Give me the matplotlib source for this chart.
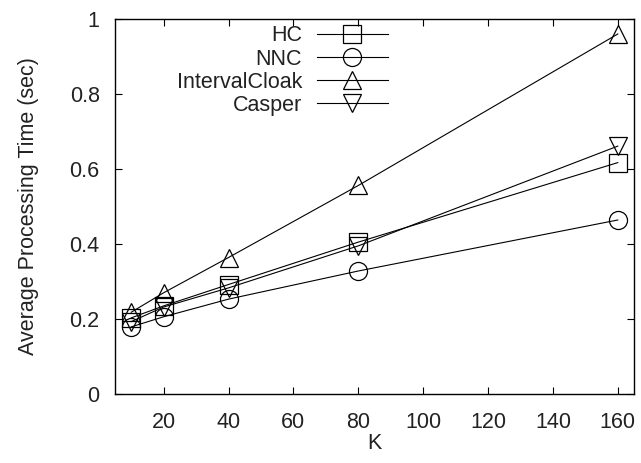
import numpy as np
import matplotlib
matplotlib.use("Agg")
import matplotlib.pyplot as plt
from matplotlib.ticker import FuncFormatter

# data
K = [10, 20, 40, 80, 160]
HC = [0.203, 0.235, 0.292, 0.405, 0.617]
NNC = [0.179, 0.206, 0.253, 0.328, 0.464]
IntervalCloak = [0.218, 0.270, 0.364, 0.556, 0.960]
Casper = [0.193, 0.232, 0.283, 0.395, 0.661]

x_ticks = [20, 40, 60, 80, 100, 120, 140, 160]
y_ticks = [0, 0.2, 0.4, 0.6, 0.8, 1.0]

plt.rcParams["font.family"] = ["Liberation Sans", "DejaVu Sans"]
fs = 15.5
txt_color = "#222222"

fig = plt.figure(figsize=(6.41, 4.63), dpi=100)
ax = fig.add_axes([115 / 641, 1 - 394 / 463, (634 - 115) / 641, (394 - 19) / 463])

style = dict(color="black", linewidth=0.8, markersize=13, markerfacecolor="none",
             markeredgecolor="black", markeredgewidth=0.9)
ax.plot(K, HC, marker="s", label="HC", **style)
ax.plot(K, NNC, marker="o", label="NNC", **style)
ax.plot(K, IntervalCloak, marker="^", label="IntervalCloak", **style)
ax.plot(K, Casper, marker="v", label="Casper", **style)

ax.set_xlim(5, 165)
ax.set_ylim(0, 1)
ax.set_xticks(x_ticks)
ax.set_yticks(y_ticks)
ax.yaxis.set_major_formatter(FuncFormatter(lambda v, p: "%g" % v))
ax.tick_params(direction="in", length=5, width=0.8, top=True, right=True,
               labelsize=fs, labelcolor=txt_color)
ax.tick_params(axis="x", pad=13)
ax.tick_params(axis="y", pad=11)
for s in ax.spines.values():
    s.set_linewidth(1.0)

ax.set_xlabel("K", fontsize=fs, labelpad=0, color=txt_color)
ax.set_ylabel("Average Processing Time (sec)", fontsize=fs, labelpad=22, color=txt_color)

leg = ax.legend(loc="upper right", bbox_to_anchor=(388 / 641, 0.945),
                bbox_transform=fig.transFigure, frameon=False, markerfirst=False,
                borderpad=0, borderaxespad=0, handlelength=3.3, handletextpad=0.7,
                labelspacing=0.1, fontsize=fs)
for t in leg.get_texts():
    t.set_color(txt_color)

fig.savefig("out.png", dpi=100)
